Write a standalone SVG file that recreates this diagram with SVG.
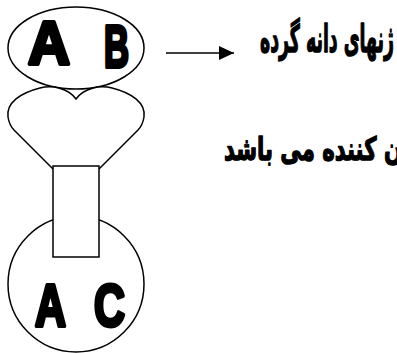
<svg xmlns="http://www.w3.org/2000/svg" width="397" height="353" viewBox="0 0 397 353">
<defs>
<style>
.sh{fill:#fff;stroke:#000;stroke-width:1.5}
.big{font-family:"Liberation Sans",Arial,sans-serif;font-weight:bold;fill:#000;stroke:#000;stroke-width:4;stroke-linejoin:round}
.fa{font-family:"DejaVu Sans","Noto Sans",sans-serif;font-weight:bold;fill:#000;stroke:#000;stroke-width:1.4;stroke-linejoin:round}
</style>
<marker id="ah" markerWidth="15" markerHeight="14" refX="15" refY="7" orient="auto" markerUnits="userSpaceOnUse">
<path d="M0,0 L15,7 L0,14 Z" fill="#000"/>
</marker>
</defs>
<rect width="397" height="353" fill="#fff"/>
<g id="top-ellipse">
<ellipse class="sh" cx="76" cy="48" rx="68" ry="41"/>
<text class="big" x="28" y="64" font-size="62" textLength="42" lengthAdjust="spacingAndGlyphs">A</text>
<text class="big" x="104" y="67" font-size="60" textLength="25" lengthAdjust="spacingAndGlyphs">B</text>
</g>
<g id="heart">
<path class="sh" d="M76,99 C68,88 52,85 40,88 C20,93 6,103 8,117 C9,123 11,127 14,130 L76,192 L138,130 C141,127 143,123 144,117 C146,103 132,93 112,88 C100,85 84,88 76,99 Z"/>
</g>
<g id="bottom-circle">
<circle class="sh" cx="76" cy="284" r="68"/>
<text class="big" x="35" y="326" font-size="60" textLength="31" lengthAdjust="spacingAndGlyphs">A</text>
<text class="big" x="94" y="326" font-size="60" textLength="31" lengthAdjust="spacingAndGlyphs">C</text>
</g>
<g id="stem">
<rect class="sh" x="53" y="166" width="46" height="91"/>
</g>
<g id="connectors">
<line x1="166" y1="53" x2="234" y2="53" stroke="#000" stroke-width="1.5" marker-end="url(#ah)"/>
</g>
<g id="label-pollen">
<text class="fa" x="394" y="52" font-size="38" text-anchor="end" textLength="134" lengthAdjust="spacingAndGlyphs">ژنهای دانه گرده</text>
</g>
<g id="label-determining">
<text class="fa" x="224" y="160" font-size="32" textLength="178" lengthAdjust="spacingAndGlyphs">ن کننده می باشد</text>
</g>
</svg>
